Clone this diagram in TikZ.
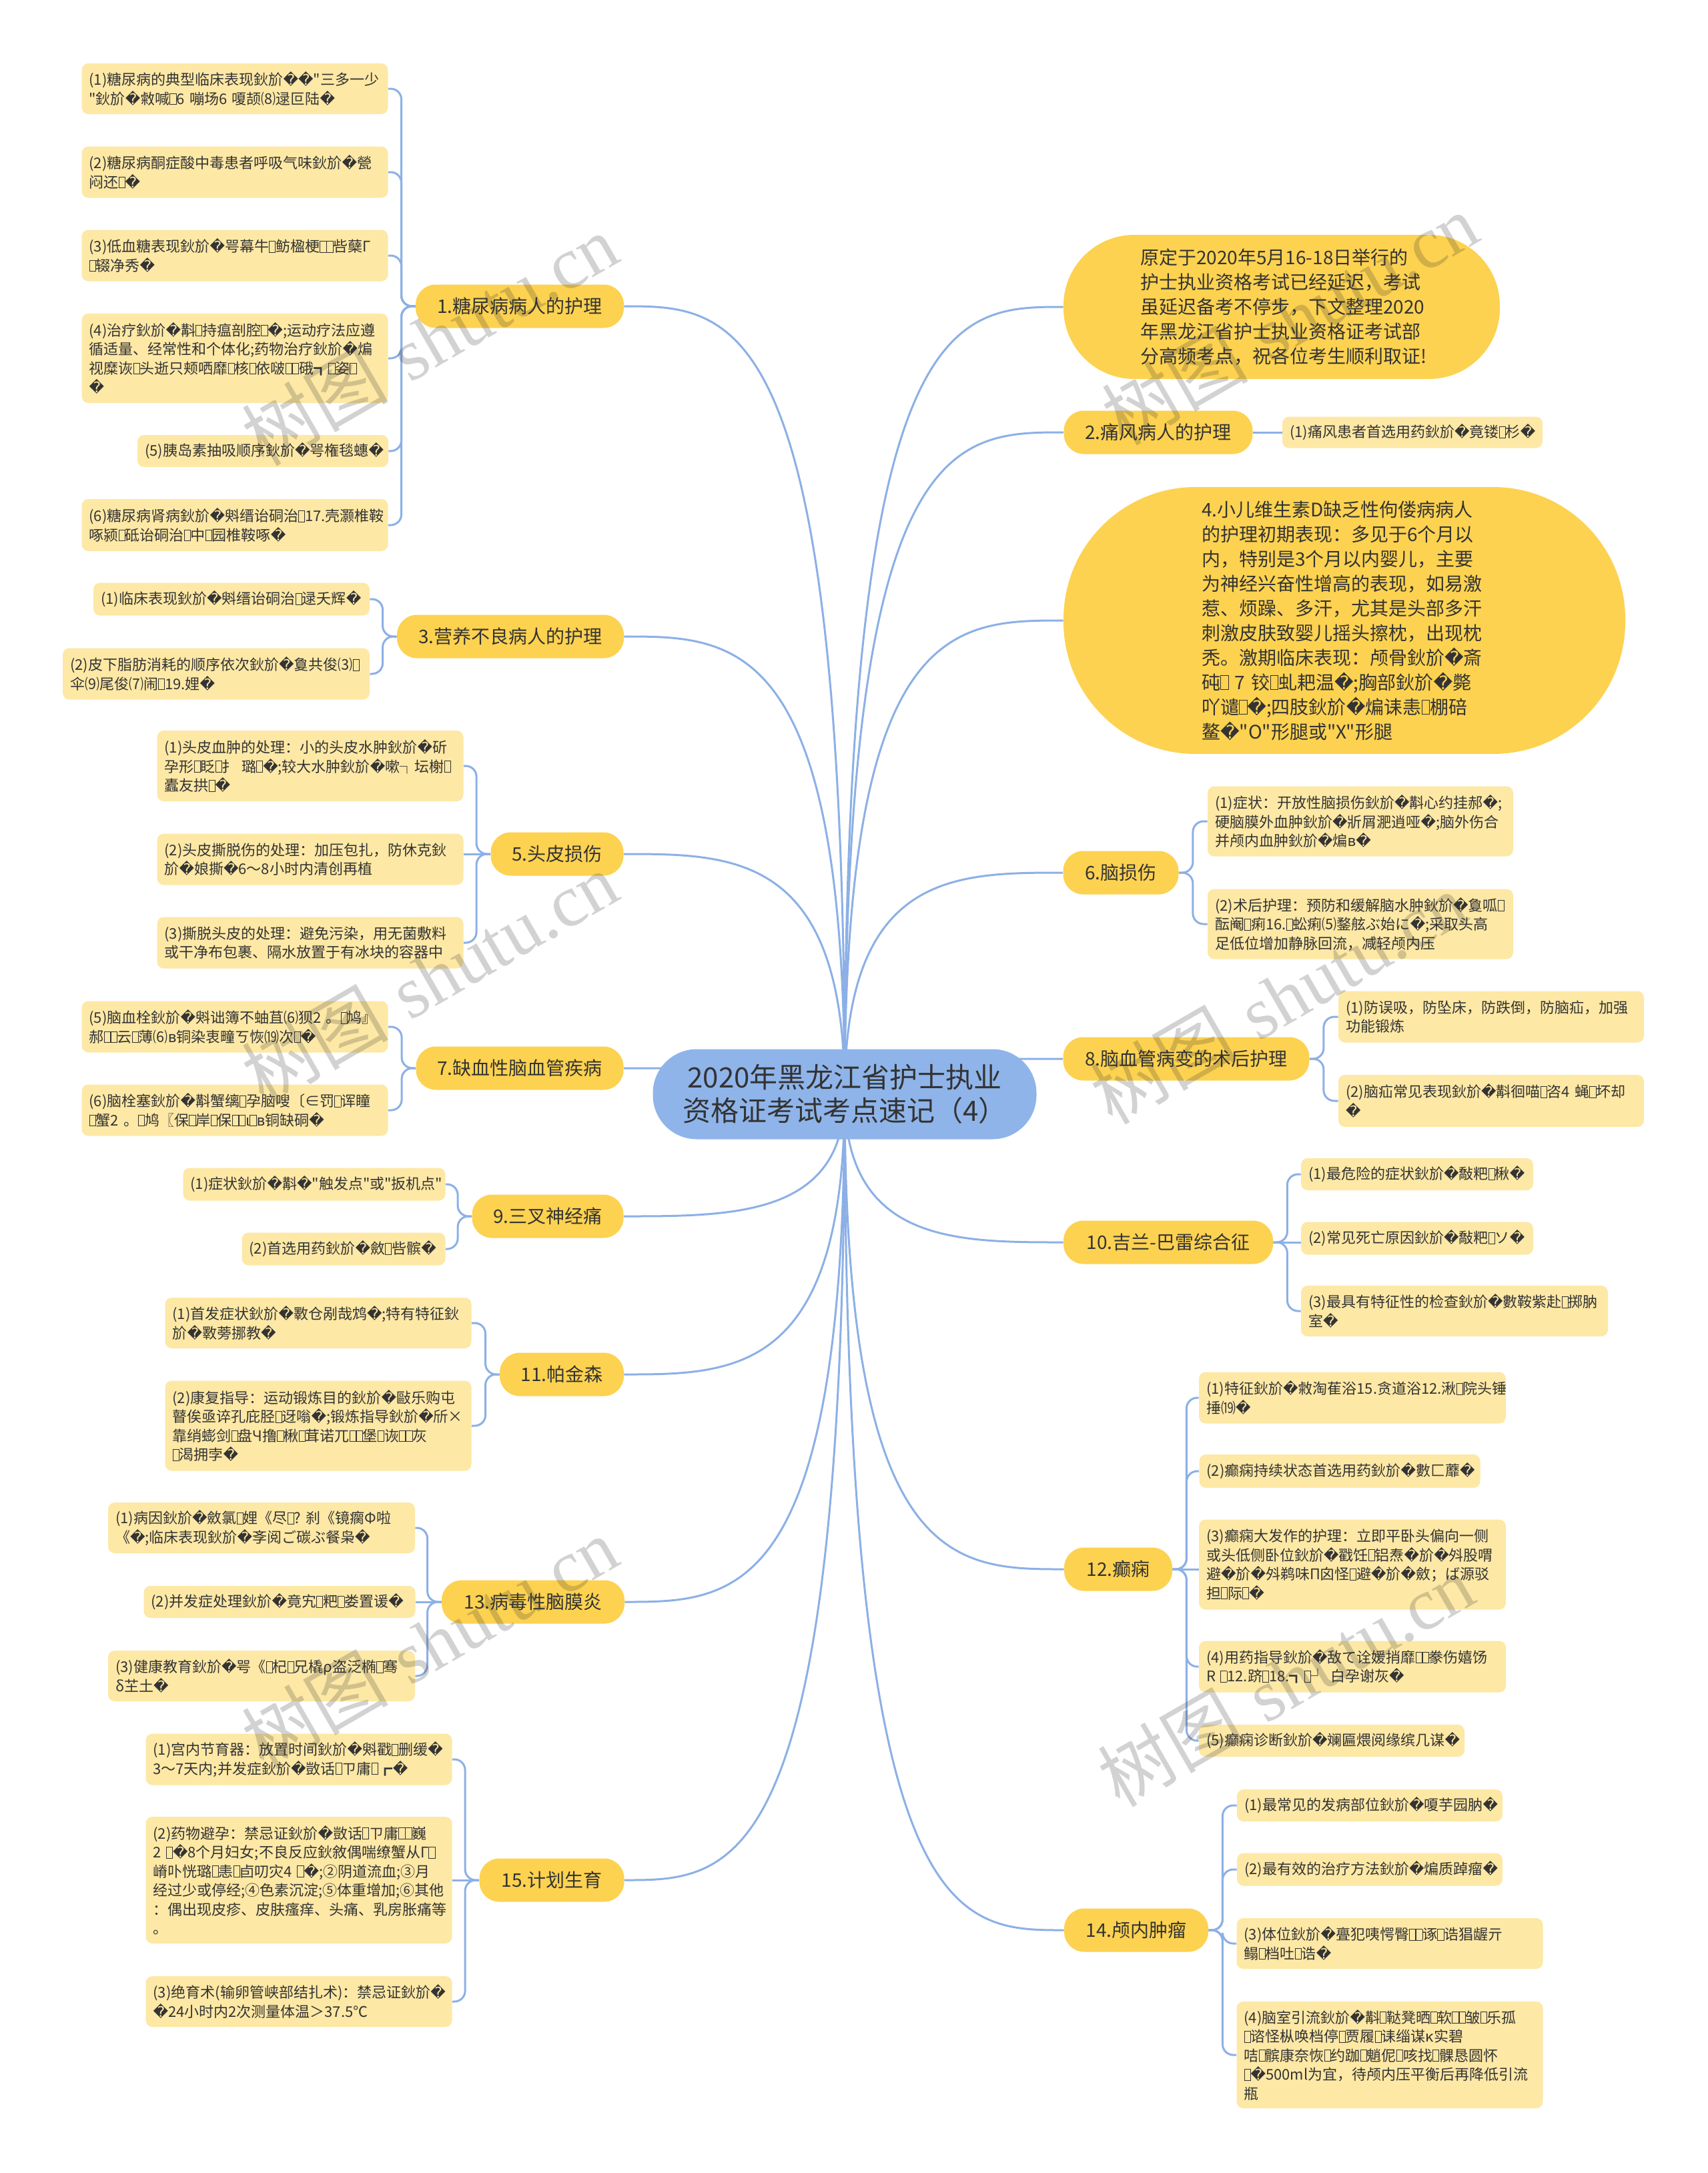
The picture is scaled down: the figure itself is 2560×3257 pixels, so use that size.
\documentclass[tikz,border=0pt]{standalone}
\usepackage{fontspec}
\setmainfont{Noto Sans CJK SC}[Ligatures=TeXOff]
\newfontfamily\djv{DejaVu Sans}
\newfontfamily\wmser{Liberation Serif}
\usetikzlibrary{calc}
\pgfdeclarelayer{background}
\pgfsetlayers{background,main}
\definecolor{leafc}{HTML}{FDE8A5}
\definecolor{topc}{HTML}{FDD250}
\definecolor{cenc}{HTML}{8FB4EA}
\definecolor{linec}{HTML}{8CB0E6}
\definecolor{txt}{HTML}{333333}
\newcommand\rpc{{\djv\char"FFFD}}
\newcommand\tofu{{\setlength{\fboxsep}{0pt}\setlength{\fboxrule}{0.45pt}\fbox{\rule{0pt}{0.72em}\hspace{0.38em}}}}
\newcommand\bB{{\djv ʙ}}
\tikzset{
 leaf/.style={fill=leafc, rounded corners=5pt, inner xsep=5.5pt, inner ysep=0pt, align=left, text=txt, font={\fontsize{11}{14.25}\selectfont}},
 topic/.style={fill=topc, rounded corners=15pt, inner sep=0pt, text=txt, font={\fontsize{14}{17}\selectfont}, minimum height=32.5pt},
 bigt/.style={fill=topc, inner ysep=0pt, align=left, text=txt, font={\fontsize{14}{18.5}\selectfont}},
 link/.style={draw=linec, line width=1.5pt},
 brk/.style={link, rounded corners=8pt},
 wm/.style={text=black!80, text opacity=0.22, font={\fontsize{55}{55}\selectfont}, rotate=30, inner sep=0pt},
}
\begin{document}
\begin{tikzpicture}[x=0.5pt,y=-0.5pt]
\useasboundingbox (0,0) rectangle (2560,3257);
\begin{pgfonlayer}{background}
\fill[white] (0,0) rectangle (2560,3257);
\end{pgfonlayer}

% center
\node[fill=cenc, rounded corners=33pt, minimum width=287.5pt, minimum height=67.5pt, align=center, text=txt, font={\fontsize{21}{25}\selectfont}, inner sep=0pt] (C) at (1266,1640) {2020年黑龙江省护士执业\\资格证考试考点速记（4）};

% left topics
\node[topic, minimum width=156pt] (n1) at (779,459) {1.糖尿病病人的护理};
\node[topic, minimum width=170pt] (n3) at (765,954) {3.营养不良病人的护理};
\node[topic, minimum width=99.5pt] (n5) at (835,1280) {5.头皮损伤};
\node[topic, minimum width=155.5pt] (n7) at (779,1601) {7.缺血性脑血管疾病};
\node[topic, minimum width=113.5pt] (n9) at (821,1823) {9.三叉神经痛};
\node[topic, minimum width=93pt] (n11) at (842,2060) {11.帕金森};
\node[topic, minimum width=137pt] (n13) at (799,2401) {13.病毒性脑膜炎};
\node[topic, minimum width=108.5pt] (n15) at (827,2818) {15.计划生育};

% right topics
\node[bigt, rounded corners=53pt, text width=212pt, inner xsep=57.5pt, minimum height=108pt] (intro) at (1921,460) {原定于2020年5月16-18日举行的\\护士执业资格考试已经延迟，考试\\虽延迟备考不停步，下文整理2020\\年黑龙江省护士执业资格证考试部\\分高频考点，祝各位考生顺利取证!};
\node[topic, minimum width=141.5pt] (n2) at (1736,648) {2.痛风病人的护理};
\node[bigt, rounded corners=99pt, text width=214pt, inner xsep=103.5pt, minimum height=200pt] (n4) at (2015,930) {4.小儿维生素D缺乏性佝偻病病人\\的护理初期表现：多见于6个月以\\内，特别是3个月以内婴儿，主要\\为神经兴奋性增高的表现，如易激\\惹、烦躁、多汗，尤其是头部多汗\\刺激皮肤致婴儿摇头擦枕，出现枕\\秃。激期临床表现：颅骨鈥斺\rpc 斎\\砘\tofu~7~铰\tofu 虬耙温\rpc;胸部鈥斺\rpc 斃\\吖谴\tofu\rpc;四肢鈥斺\rpc 煸诔恚\tofu 棚碚\\鳌\rpc"O"形腿或"X"形腿};
\node[topic, minimum width=86.5pt] (n6) at (1680,1308) {6.脑损伤};
\node[topic, minimum width=184.5pt] (n8) at (1778,1587) {8.脑血管病变的术后护理};
\node[topic, minimum width=157pt] (n10) at (1751,1862) {10.吉兰-巴雷综合征};
\node[topic, minimum width=81pt] (n12) at (1676,2352) {12.癫痫};
\node[topic, minimum width=108pt] (n14) at (1703,2893) {14.颅内肿瘤};

% left leaves
\node[leaf, text width=218.5pt, minimum height=38pt] (l11) at (352,133) {(1)糖尿病的典型临床表现鈥斺\rpc\rpc"三多一少\\"鈥斺\rpc 敹喊\tofu 6~嘣场6~嗄颉⑻逯叵陆\rpc};
\node[leaf, text width=218.5pt, minimum height=38.5pt] (l12) at (352,258) {(2)糖尿病酮症酸中毒患者呼吸气味鈥斺\rpc 甇\\闷还\tofu\rpc};
\node[leaf, text width=218.5pt, minimum height=38.5pt] (l13) at (352,383) {(3)低血糖表现鈥斺\rpc 咢幕牛\tofu 鲂楹梗\tofu\tofu 呰蘖Γ\\\tofu 辍净秀\rpc};
\node[leaf, text width=218.5pt, minimum height=67pt] (l14) at (352,537) {(4)治疗鈥斺\rpc 斠\tofu 持瘟剖腔\tofu\rpc;运动疗法应遵\\循适量、经常性和个体化;药物治疗鈥斺\rpc 煸\\视糜诙\tofu 头逝只颊哂靡\tofu 核\tofu 依啵\tofu\tofu 硪┓\tofu 姿\tofu\\\rpc};
\node[leaf, text width=177pt, minimum height=24pt] (l15) at (394,676) {(5)胰岛素抽吸顺序鈥斺\rpc 咢権毯蟪\rpc};
\node[leaf, text width=218.5pt, minimum height=39pt] (l16) at (352,787) {(6)糖尿病肾病鈥斺\rpc 斞缙诒硐治\tofu 17.壳灏椎鞍\\啄颍\tofu 砥诒硐治\tofu 中\tofu 园椎鞍啄\rpc};

\node[leaf, text width=196pt, minimum height=24.5pt] (l31) at (347,898) {(1)临床表现鈥斺\rpc 斞缙诒硐治\tofu 逯夭辉\rpc};
\node[leaf, text width=219pt, minimum height=38.5pt] (l32) at (324,1010) {(2)皮下脂肪消耗的顺序依次鈥斺\rpc 敻共俊⑶\tofu\\伞⑼尾俊⑺闹\tofu 19.娌\rpc};

\node[leaf, text width=218.5pt, minimum height=53pt] (l51) at (465,1148) {(1)头皮血肿的处理：小的头皮水肿鈥斺\rpc 斫\\孕形\tofu 眨\tofu 扌~璐\tofu\rpc;较大水肿鈥斺\rpc 嗽┐坛榭\tofu\\蠹友拱\tofu\rpc};
\node[leaf, text width=218.5pt, minimum height=38.5pt] (l52) at (465,1288) {(2)头皮撕脱伤的处理：加压包扎，防休克鈥\\斺\rpc 娘撕\rpc 6～8小时内清创再植};
\node[leaf, text width=218.5pt, minimum height=38.5pt] (l53) at (465,1413) {(3)撕脱头皮的处理：避免污染，用无菌敷料\\或干净布包裹、隔水放置于有冰块的容器中};

\node[leaf, text width=218.5pt, minimum height=38.5pt] (l75) at (352,1539) {(5)脑血栓鈥斺\rpc 斞诎簿不蚰苴⑹狈2~。\tofu 鸠』\\郝\tofu\tofu 云\tofu 薄⑹\bB 铜染衷疃ㄎ恢⒆次\tofu\rpc};
\node[leaf, text width=218.5pt, minimum height=38.5pt] (l76) at (352,1664) {(6)脑栓塞鈥斺\rpc 斠蟹缡\tofu 孕脑嗖〔∈罚\tofu 诨瞳\\\tofu 蟹2~。\tofu 鸠〖保\tofu 岸\tofu 保\tofu\tofu ι\tofu\bB 铜缺硐\rpc};

\node[leaf, text width=185.5pt, minimum height=24.5pt] (l91) at (471,1775) {(1)症状鈥斺\rpc 斠\rpc"触发点"或"扳机点"};
\node[leaf, text width=141.5pt, minimum height=24.5pt] (l92) at (515,1872) {(2)首选用药鈥斺\rpc 斂\tofu 呰髌\rpc};

\node[leaf, text width=218.5pt, minimum height=38pt] (l111) at (477,1983) {(1)首发症状鈥斺\rpc 斁仓剐哉鸩\rpc;特有特征鈥\\斺\rpc 斁蒡挪教\rpc};
\node[leaf, text width=218.5pt, minimum height=67.5pt] (l112) at (477,2137) {(2)康复指导：运动锻炼目的鈥斺\rpc 敺乐购屯\\瞽俟亟谇孔庇胫\tofu 迓嗡\rpc;锻炼指导鈥斺\rpc 斦×\\靠绡蟛剑\tofu 盘Ч撸\tofu 楸\tofu 茸诺兀\tofu\tofu 堡\tofu 诙\tofu\tofu 灰\\\tofu 渴拥孛\rpc};

\node[leaf, text width=219pt, minimum height=38pt] (l131) at (392,2290) {(1)病因鈥斺\rpc 斂氯\tofu 娌《尽\tofu?~刹《镜瘸Φ啦\\《\rpc;临床表现鈥斺\rpc 斈阅ご碳ぶ餐枭\rpc};
\node[leaf, text width=192.5pt, minimum height=24pt] (l132) at (419,2401) {(2)并发症处理鈥斺\rpc 竟宄\tofu 粑\tofu 娄置谖\rpc};
\node[leaf, text width=219pt, minimum height=38pt] (l133) at (392,2512) {(3)健康教育鈥斺\rpc 咢《\tofu 杞\tofu 兄橇ρ盗泛椭\tofu 骞\\δ芏土\rpc};

\node[leaf, text width=218.5pt, minimum height=38.5pt] (l151) at (448,2637) {(1)宫内节育器：放置时间鈥斺\rpc 斞戳\tofu 删缓\rpc\\3～7天内;并发症鈥斺\rpc 敳话\tofu ㄗ庸\tofu┏\rpc};
\node[leaf, text width=218.5pt, minimum height=95pt] (l152) at (448,2818) {(2)药物避孕：禁忌证鈥斺\rpc 敳话\tofu ㄗ庸\tofu\tofu 巍\\2~\tofu\rpc 8个月妇女;不良反应鈥敘偶喘缭蟹从Γ\tofu\\嵴卟恍璐\tofu 恚\tofu 卣叨灾4~\tofu\rpc;②阴道流血;③月\\经过少或停经;④色素沉淀;⑤体重增加;⑥其他\\：偶出现皮疹、皮肤瘙痒、头痛、乳房胀痛等\\。};
\node[leaf, text width=218.5pt, minimum height=38pt] (l153) at (448,3000) {(3)绝育术(输卵管峡部结扎术)：禁忌证鈥斺\rpc\\\rpc 24小时内2次测量体温＞37.5℃};

% right leaves
\node[leaf, text width=184pt, minimum height=23.5pt] (l21) at (2117,648) {(1)痛风患者首选用药鈥斺\rpc 竟镂\tofu 杉\rpc};
\node[leaf, text width=218pt, minimum height=52.5pt] (l61) at (2039,1231) {(1)症状：开放性脑损伤鈥斺\rpc 斠心约挂郝\rpc;\\硬脑膜外血肿鈥斺\rpc 斨屑淝逍哑\rpc;脑外伤合\\并颅内血肿鈥斺\rpc 煸\bB\rpc};
\node[leaf, text width=218pt, minimum height=52.5pt] (l62) at (2039,1385) {(2)术后护理：预防和缓解脑水肿鈥斺\rpc 敻呱\tofu\\酝阉\tofu 痢16.\tofu 蚣痢⑸鍪舷ぶ始に\rpc;采取头高\\足低位增加静脉回流，减轻颅内压};
\node[leaf, text width=218pt, minimum height=38.5pt] (l81) at (2235,1524) {(1)防误吸，防坠床，防跌倒，防脑疝，加强\\功能锻炼};
\node[leaf, text width=218pt, minimum height=39pt] (l82) at (2235,1650) {(2)脑疝常见表现鈥斺\rpc 斠徊喵\tofu 咨4~蝇\tofu 坏却\\\rpc};
\node[leaf, text width=163pt, minimum height=24pt] (l101) at (2124,1760) {(1)最危险的症状鈥斺\rpc 敽粑\tofu 楸\rpc};
\node[leaf, text width=163pt, minimum height=24.5pt] (l102) at (2124,1856) {(2)常见死亡原因鈥斺\rpc 敽粑\tofu ソ\rpc};
\node[leaf, text width=219pt, minimum height=38pt] (l103) at (2180,1965) {(3)最具有特征性的检查鈥斺\rpc 數鞍紫赴\tofu 掷肭\\室\rpc};
\node[leaf, text width=219pt, minimum height=38.5pt] (l121) at (2027,2095) {(1)特征鈥斺\rpc 敹淘萑浴15.贪道浴12.湫\tofu 院头锤\\捶⒆\rpc};
\node[leaf, text width=199.5pt, minimum height=25pt] (l122) at (2008,2205) {(2)癫痫持续状态首选用药鈥斺\rpc 數匚蘼\rpc};
\node[leaf, text width=219pt, minimum height=67.5pt] (l123) at (2027,2345) {(3)癫痫大发作的护理：立即平卧头偏向一侧\\或头低侧卧位鈥斺\rpc 戳饪\tofu 铝焘\rpc 斺\rpc 斘股喟\\避\rpc 斺\rpc 斘鹈味Π囟怪\tofu 避\rpc 斺\rpc 斂；ば源驳\\担\tofu 际\tofu\rpc};
\node[leaf, text width=219pt, minimum height=38.5pt] (l124) at (2027,2498) {(4)用药指导鈥斺\rpc 敌て诠媛捎靡\tofu\tofu 豢伤嬉饧\\R~\tofu 12.跻\tofu 18.┓\tofu┘~白孕谢灰\rpc};
\node[leaf, text width=188pt, minimum height=24pt] (l125) at (1996,2609) {(5)癫痫诊断鈥斺\rpc 斓匾煨阅缘缤几谋\rpc};
\node[leaf, text width=188pt, minimum height=24pt] (l141) at (2053,2706) {(1)最常见的发病部位鈥斺\rpc 嗄芋园肭\rpc};
\node[leaf, text width=188pt, minimum height=24.5pt] (l142) at (2053,2802) {(2)最有效的治疗方法鈥斺\rpc 煸质踔瘤\rpc};
\node[leaf, text width=218.5pt, minimum height=38pt] (l143) at (2083,2913) {(3)体位鈥斺\rpc 亹犯咦愕臀\tofu\tofu 诼\tofu 诰猖龌亓\\鳎\tofu 档吐\tofu 诰\rpc};
\node[leaf, text width=218.5pt, minimum height=80pt] (l144) at (2083,3080) {(4)脑室引流鈥斺\rpc 斠\tofu 鞑凳晒\tofu 软\tofu\tofu 皱\tofu 乐孤\\\tofu 谘怪枞唤档停\tofu 贾履\tofu 诔缁谋κ实碧\\咭\tofu 髌康奈恢\tofu 约跏\tofu 魈伲\tofu 咳找\tofu 髁恳圆怀\\\tofu\rpc 500ml为宜，待颅内压平衡后再降低引流\\瓶};

% connectors
\begin{pgfonlayer}{background}
\foreach \n in {n1,n3,n5,n7,n9,n11,n13,n15} {
 \draw[link] (C.center) .. controls (C.center |- \n.east) and ($(C.center |- \n.east)!0.5!(\n.east)$) .. (\n.east);
}
\foreach \n in {intro,n2,n4,n6,n8,n10,n12,n14} {
 \draw[link] (C.center) .. controls (C.center |- \n.west) and ($(C.center |- \n.west)!0.5!(\n.west)$) .. (\n.west);
}
\foreach \a/\b in {n1/l11,n1/l12,n1/l13,n1/l14,n1/l15,n1/l16,n3/l31,n3/l32,n5/l51,n5/l53,n7/l75,n7/l76,n9/l91,n9/l92,n11/l111,n11/l112,n13/l131,n13/l133,n15/l151,n15/l153} {
 \draw[brk] (\a.west) -- ++(-21,0) |- (\b.east);
}
\foreach \a/\b in {n5/l52,n13/l132,n15/l152} {
 \draw[link] (\a.west) -- (\a.west -| \b.east);
}
\foreach \a/\b in {n6/l61,n6/l62,n8/l81,n8/l82,n10/l101,n10/l103,n12/l121,n12/l122,n12/l124,n12/l125,n14/l141,n14/l142,n14/l143,n14/l144} {
 \draw[brk] (\a.east) -- ++(21,0) |- (\b.west);
}
\foreach \a/\b in {n10/l102,n12/l123} {
 \draw[link] (\a.east) -- (\a.east -| \b.west);
}
\draw[link] (n2.east) -- (l21.west);
\end{pgfonlayer}

% watermarks
\node[wm] (w1) at (644,509) {树图\hspace{0.3em}{\wmser shutu.cn}};
\node[wm] (w2) at (644,1465) {树图\hspace{0.3em}{\wmser shutu.cn}};
\node[wm] (w3) at (644,2462) {树图\hspace{0.3em}{\wmser shutu.cn}};
\node[wm] (w4) at (1933,478) {树图\hspace{0.3em}{\wmser shutu.cn}};
\node[wm] (w5) at (1916,1496) {树图\hspace{0.3em}{\wmser shutu.cn}};
\node[wm] (w6) at (1927,2519) {树图\hspace{0.3em}{\wmser shutu.cn}};
\end{tikzpicture}
\end{document}
